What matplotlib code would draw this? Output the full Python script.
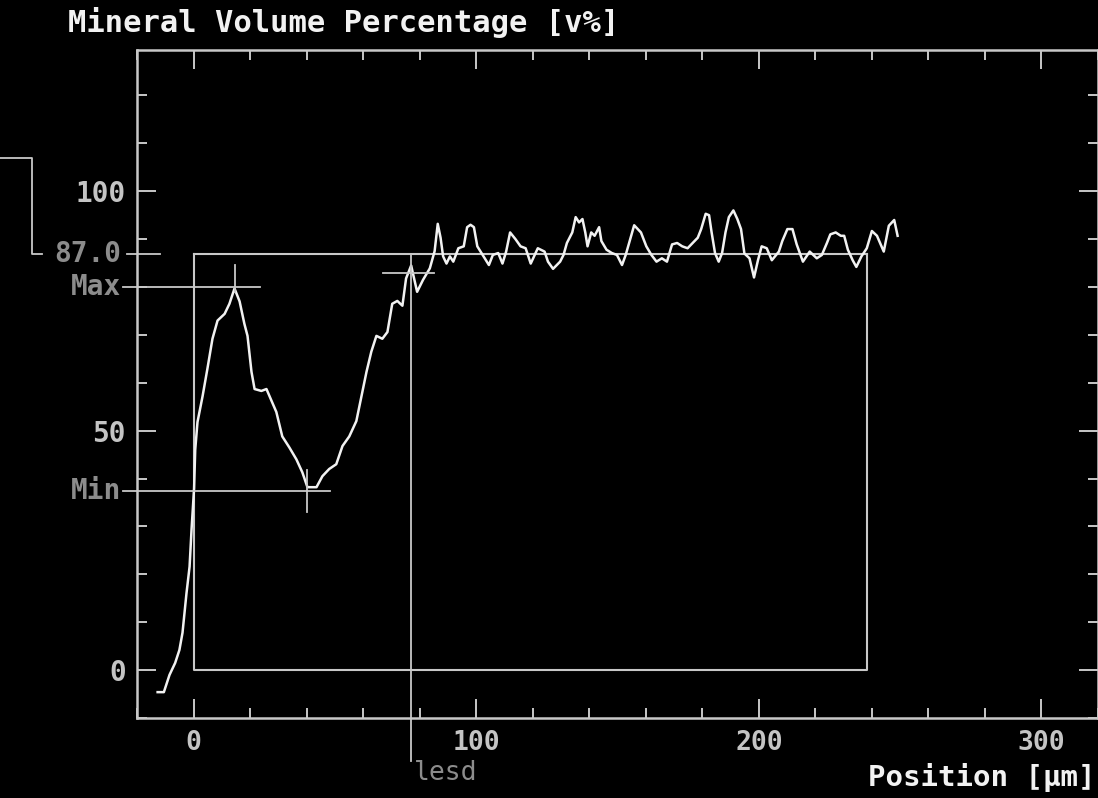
import numpy as np
import matplotlib
matplotlib.use("Agg")
import matplotlib.pyplot as plt
from matplotlib.ticker import MultipleLocator

# profile: position [um] -> mineral volume [v%]
position = [-12.7, -10.5, -8.5, -6.5, -5.0, -3.9, -2.5, -1.4, -0.7, 0.2, 0.6,
            1.4, 3.2, 4.9, 6.7, 8.5, 11.0, 12.7, 14.5, 16.3, 18.0, 19.1, 20.5,
            21.6, 24.0, 25.8, 26.9, 29.3, 31.4, 33.9, 36.4, 38.5, 40.3, 43.5,
            45.6, 48.0, 50.5, 52.7, 55.1, 57.6, 59.4, 61.2, 62.9, 64.7, 66.8,
            68.6, 70.3, 72.1, 73.9, 75.2, 77.0, 79.1, 81.2, 83.6, 85.3, 86.4,
            87.4, 88.3, 89.5, 90.7, 91.9, 93.7, 95.6, 96.8, 98.0, 99.2, 100.4,
            102.3, 104.5, 105.9, 107.8, 109.3, 110.6, 112.0, 113.9, 115.7,
            117.5, 119.3, 121.8, 124.2, 125.4, 127.2, 129.7, 130.9, 132.1,
            134.0, 135.2, 136.4, 137.6, 138.6, 139.4, 140.7, 141.9, 143.5,
            144.3, 146.1, 148.0, 149.8, 151.6, 152.9, 154.1, 155.9, 158.3,
            160.2, 162.0, 163.8, 165.7, 167.5, 169.3, 171.1, 172.9, 174.8,
            176.6, 178.4, 179.6, 181.2, 182.4, 183.3, 184.5, 185.8, 187.0,
            188.2, 189.4, 191.0, 192.4, 193.7, 194.9, 196.7, 198.3, 199.7,
            201.0, 202.8, 204.6, 207.1, 208.3, 210.1, 211.9, 213.4, 215.6,
            218.0, 220.5, 222.3, 224.1, 225.3, 227.2, 229.0, 230.2, 231.5,
            233.2, 234.5, 236.3, 238.2, 240.0, 241.8, 244.2, 246.0, 247.9,
            249.1]
volume = [-4.6, -4.6, -1.0, 1.5, 4.2, 7.8, 16.0, 21.6, 29.4, 38.0, 46.0,
          51.8, 57.2, 62.9, 69.2, 73.0, 74.4, 76.5, 79.7, 77.0, 72.3, 69.8,
          62.3, 58.7, 58.3, 58.7, 57.2, 53.9, 48.8, 46.5, 44.0, 41.3, 38.2,
          38.2, 40.5, 42.0, 43.0, 46.8, 48.8, 52.0, 57.2, 62.3, 66.5, 69.8,
          69.2, 70.6, 76.5, 77.1, 76.1, 81.8, 84.5, 79.0, 81.5, 83.9, 87.5,
          93.2, 90.3, 86.4, 84.9, 86.4, 85.3, 88.1, 88.5, 92.5, 93.0, 92.5,
          88.5, 86.7, 84.6, 86.7, 87.1, 84.9, 87.4, 91.4, 90.0, 88.5, 88.1,
          84.9, 88.1, 87.4, 85.3, 83.8, 85.3, 86.7, 89.2, 91.4, 94.6, 93.5,
          94.2, 91.4, 88.5, 91.4, 90.7, 92.5, 89.6, 87.8, 87.1, 86.7, 84.6,
          86.7, 89.2, 92.9, 91.4, 88.5, 86.7, 85.3, 86.0, 85.3, 88.9, 89.2,
          88.5, 88.1, 89.2, 90.3, 92.1, 95.3, 95.0, 91.4, 87.1, 85.3, 87.1,
          91.4, 94.6, 96.0, 94.2, 92.1, 87.0, 86.0, 82.0, 85.6, 88.5, 88.1,
          85.6, 87.4, 89.6, 92.1, 92.1, 88.9, 85.3, 87.4, 86.0, 86.7, 89.2,
          91.0, 91.4, 90.7, 90.7, 87.8, 85.6, 84.2, 86.4, 88.1, 91.7, 90.7,
          87.4, 92.8, 94.0, 90.7]

# markers on the profile
level = 87.0
box_end = 238.2
max_pos, max_val = 14.5, 80.0
min_pos, min_val = 40.3, 37.5
lesd_pos, lesd_val = 77.0, 83.0

x_ticks = [0, 100, 200, 300]
y_ticks = [0, 50, 100]

fg = "#f2f2f2"
grid = "#c8c8c8"
dim = "#8c8c8c"
mono = "DejaVu Sans Mono"

fig = plt.figure(figsize=(10.98, 7.98), dpi=100, facecolor="black")
ax = fig.add_axes([137 / 1098, 80 / 798, 961 / 1098, 668 / 798])
ax.set_facecolor("black")
ax.set_xlim(-20, 320)
ax.set_ylim(-10, 129.5)

for s in ax.spines.values():
    s.set_color(grid)
    s.set_linewidth(1.8)

ax.set_xticks(x_ticks)
ax.set_yticks(y_ticks)
ax.xaxis.set_minor_locator(MultipleLocator(20))
ax.yaxis.set_minor_locator(MultipleLocator(10))
ax.tick_params(which="both", direction="in", colors=grid, width=1.4,
               top=True, right=True)
ax.tick_params(which="major", length=14)
ax.tick_params(which="minor", length=7)
ax.tick_params(axis="x", which="major", pad=9, labelsize=19, labelcolor="#c4c4c4")
ax.tick_params(axis="y", which="major", pad=8, labelsize=20, labelcolor="#c4c4c4")
for lab in ax.get_xticklabels() + ax.get_yticklabels():
    lab.set_fontfamily(mono)
    lab.set_fontweight("bold")

# reference box 0..box_end, 0..level
ax.plot([0, 0, box_end, box_end], [level, 0, 0, level], color=grid, lw=1.5)
ax.plot([0, box_end], [level, level], color=grid, lw=1.5)

# profile curve
ax.plot(position, volume, color=fg, lw=1.8)

ytr = ax.get_yaxis_transform()
xtr = ax.get_xaxis_transform()

# max / min cross-hairs
ax.plot([-0.015, 0], [max_val, max_val], color=grid, lw=1.3, transform=ytr, clip_on=False)
ax.plot([-20, max_pos + 9], [max_val, max_val], color=grid, lw=1.3)
ax.plot([max_pos, max_pos], [max_val - 1, max_val + 4.5], color=grid, lw=1.3)
ax.plot([-0.015, 0], [min_val, min_val], color=grid, lw=1.3, transform=ytr, clip_on=False)
ax.plot([-20, min_pos + 8], [min_val, min_val], color=grid, lw=1.3)
ax.plot([min_pos, min_pos], [min_val - 4.5, min_val + 4.2], color=grid, lw=1.3)

# lesd marker
ax.plot([lesd_pos - 10, lesd_pos + 8], [lesd_val, lesd_val], color=grid, lw=1.3)
ax.plot([lesd_pos, lesd_pos], [level, -19], color=grid, lw=1.3, clip_on=False)
ax.text(lesd_pos + 1, -0.083, "lesd", transform=xtr, color=dim, fontsize=19,
        family=mono, ha="left", va="center")

# level line and bracket on the left
ax.plot([-0.01, 0.024], [level, level], color=grid, lw=1.3, transform=ytr, clip_on=False)
ax.plot([-137 / 961, -105 / 961, -105 / 961, -95 / 961],
        [level + 20, level + 20, level, level], color=grid, lw=1.3,
        transform=ytr, clip_on=False)

for val, txt in [(level, "87.0"), (max_val, "Max"), (min_val, "Min")]:
    ax.text(-0.0165, val, txt, transform=ytr, color=dim, fontsize=20,
            family=mono, fontweight="bold", ha="right", va="center")

fig.text(68 / 1098, 1 - 22 / 798, "Mineral Volume Percentage [v%]", color=fg,
         fontsize=22, family=mono, fontweight="bold", ha="left", va="center")
fig.text(1095 / 1098, 1 - 777 / 798, "Position [µm]", color=fg,
         fontsize=21, family=mono, fontweight="bold", ha="right", va="center")

fig.savefig("out.png", dpi=100, facecolor="black")
